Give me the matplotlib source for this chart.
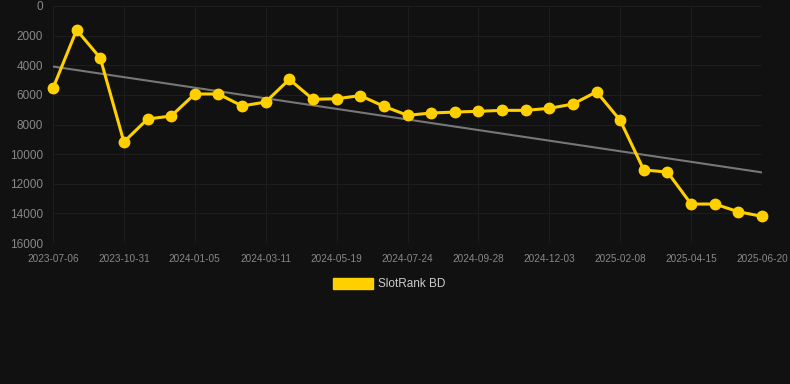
import numpy as np
import matplotlib.pyplot as plt
from matplotlib.patches import Patch

plt.rcParams['font.family'] = ['Liberation Sans', 'DejaVu Sans']

# x labels shown every third point
tick_labels = ['2023-07-06', '2023-10-31', '2024-01-05', '2024-03-11',
               '2024-05-19', '2024-07-24', '2024-09-28', '2024-12-03',
               '2025-02-08', '2025-04-15', '2025-06-20']

rank = [5550, 1620, 3510, 9180, 7630, 7430, 5940, 5940, 6750, 6480,
        4950, 6300, 6260, 6050, 6770, 7380, 7225, 7160, 7110, 7045,
        7045, 6910, 6620, 5790, 7720, 11070, 11210, 13370, 13370, 13890,
        14200]

bg = '#111111'
gold = '#FFD000'
x = np.arange(len(rank))

fig = plt.figure(figsize=(7.9, 3.84), dpi=100, facecolor=bg)
ax = fig.add_axes([53 / 790, 1 - 243 / 384, (762 - 53) / 790, (243 - 6) / 384])
ax.set_facecolor(bg)

# trend line (least squares)
k, b = np.polyfit(x, rank, 1)
ax.plot(x, k * x + b, color='#777777', lw=1.5, zorder=2)

ax.plot(x, rank, color=gold, lw=2.2, marker='o', markersize=7.5,
        zorder=3, clip_on=False)

ax.set_xlim(0, len(rank) - 1)
ax.set_ylim(16000, 0)
ax.set_yticks(range(0, 16001, 2000))
ax.set_xticks(x[::3])
ax.set_xticklabels(tick_labels)

ax.grid(True, color='#1d1d1d', lw=0.8)
for s in ax.spines.values():
    s.set_visible(False)
ax.tick_params(axis='y', length=0, pad=7, labelsize=8.5, labelcolor='#888888')
ax.tick_params(axis='x', length=0, pad=8, labelsize=7.2, labelcolor='#888888')
ax.axhline(16000, color='#2c2c2c', lw=0.8, zorder=1)

fig.legend(handles=[Patch(facecolor=gold, edgecolor=gold, label='SlotRank BD')],
           loc='center', bbox_to_anchor=(389 / 790, 1 - 284 / 384), frameon=False,
           handlelength=3.4, handleheight=1.1, fontsize=8.5,
           labelcolor='#cccccc', handletextpad=0.45)

fig.savefig('out.png', facecolor=bg)
